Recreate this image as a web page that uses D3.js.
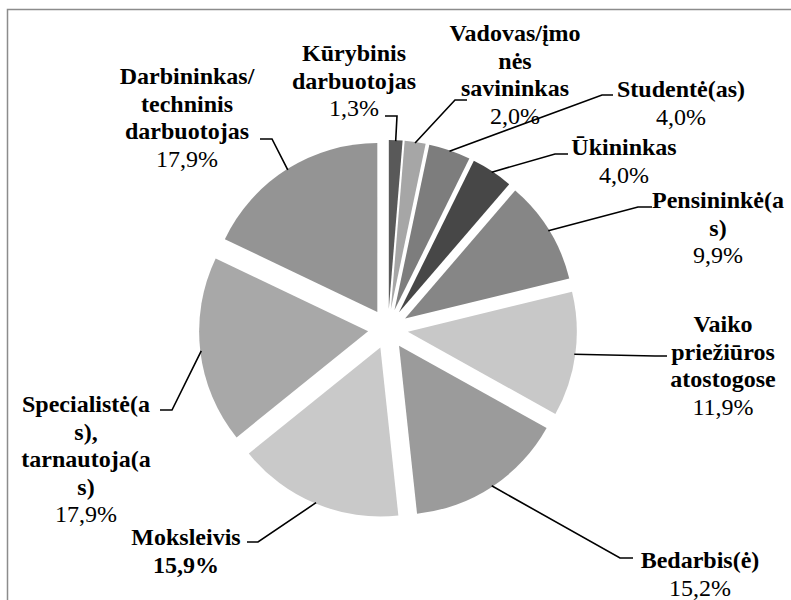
<!DOCTYPE html>
<html>
<head>
<meta charset="utf-8">
<script src="https://cdn.jsdelivr.net/npm/d3@7"></script>
<style>
  body { margin: 0; font-family: 'Liberation Serif'; }
  svg text { font-family: 'Liberation Serif'; }
</style>
</head>
<body>
<div id="chart"></div>
<script>
// occupations, share of respondents (%)
var categories = [
	["Kūrybinis", "darbuotojas"],
	["Vadovas/įmo", "nės", "savininkas"],
	["Studentė(as)"],
	["Ūkininkas"],
	["Pensininkė(a", "s)"],
	["Vaiko", "priežiūros", "atostogose"],
	["Bedarbis(ė)"],
	["Moksleivis"],
	["Specialistė(a", "s),", "tarnautoja(a", "s)"],
	["Darbininkas/", "techninis", "darbuotojas"]
];
var shares = [1.3, 2.0, 4.0, 4.0, 9.9, 11.9, 15.2, 15.9, 17.9, 17.9];

// look
var grays = ["#595959", "#a6a6a6", "#7d7d7d", "#474747", "#868686",
	"#c8c8c8", "#9b9b9b", "#c9c9c9", "#a8a8a8", "#949494"];
var boldValue = [false, false, false, false, false, false, false, true, false, false];

// where each label sits: x = text centre, y = first baseline, elbow + end of leader
var labelLayout = [
	{x: 354, y: 61, ex: 397, ey: 116, hx: 385},
	{x: 515, y: 41, ex: 455, ey: 100, hx: 467},
	{x: 681, y: 97, ex: 602, ey: 95, hx: 613},
	{x: 624, y: 155, ex: 555, ey: 154, hx: 568},
	{x: 718, y: 208, ex: 638, ey: 207, hx: 652},
	{x: 723, y: 332, ex: 655, ey: 356, hx: 667},
	{x: 700, y: 568, ex: 620, ey: 558, hx: 633},
	{x: 186, y: 545, ex: 258, ey: 542, hx: 247},
	{x: 86, y: 412, ex: 172, ey: 410, hx: 160},
	{x: 187, y: 84, ex: 272, ey: 139, hx: 260}
];

var W = 791, H = 600;
var cx = 388, cy = 329, radius = 169, explode = 20;
var lineH = 27.6;

var fmt = function(v) { return d3.format(".1f")(v).replace(".", ",") + "%"; };

var rows = shares.map(function(v, i) {
	return {name: categories[i], value: v, fill: grays[i], bold: boldValue[i], lab: labelLayout[i]};
});

var pie = d3.pie().sort(null).value(function(d) { return d.value; });
var arc = d3.arc().innerRadius(0).outerRadius(radius);
var arcs = pie(rows);

function midAngle(a) { return (a.startAngle + a.endAngle) / 2; }

var svg = d3.select("#chart").append("svg")
	.attr("width", W)
	.attr("height", H);

svg.append("rect")
	.attr("x", 7.5).attr("y", 9.5)
	.attr("width", 820).attr("height", 620)
	.attr("fill", "#fff")
	.attr("stroke", "#8c8c8c")
	.attr("stroke-width", 1.5);

svg.append("g")
	.attr("transform", "translate(" + cx + "," + cy + ")")
	.selectAll("path")
	.data(arcs)
	.enter().append("path")
	.attr("d", arc)
	.attr("fill", function(d) { return d.data.fill; })
	.attr("transform", function(d) {
		var a = midAngle(d);
		return "translate(" + (explode * Math.sin(a)) + "," + (-explode * Math.cos(a)) + ")";
	});

// leader lines
svg.append("g").selectAll("path")
	.data(arcs)
	.enter().append("path")
	.attr("fill", "none")
	.attr("stroke", "#000")
	.attr("stroke-width", 1.6)
	.attr("d", function(d) {
		var a = midAngle(d);
		var R = radius + explode - 1;
		var p = d3.path();
		p.moveTo(cx + R * Math.sin(a), cy - R * Math.cos(a));
		p.lineTo(d.data.lab.ex, d.data.lab.ey);
		p.lineTo(d.data.lab.hx, d.data.lab.ey);
		return p;
	});

// labels: one text per line, names bold, value underneath
arcs.forEach(function(d) {
	var lab = d.data.lab;
	var lines = d.data.name.map(function(s) { return {s: s, bold: true}; });
	lines.push({s: fmt(d.data.value), bold: d.data.bold});
	lines.forEach(function(line, i) {
		svg.append("text")
			.attr("x", lab.x)
			.attr("y", lab.y + i * lineH)
			.attr("text-anchor", "middle")
			.style("font", (line.bold ? "bold " : "") + "24px 'Liberation Serif'")
			.text(line.s);
	});
});
</script>
</body>
</html>
